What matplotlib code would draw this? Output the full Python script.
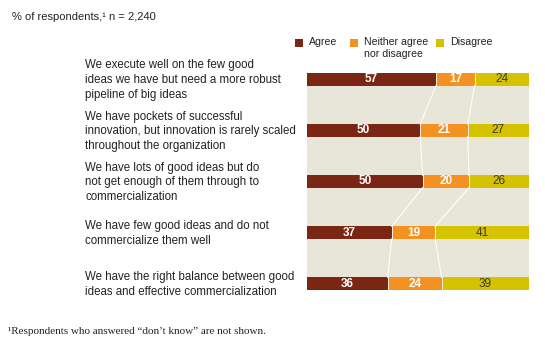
import matplotlib.pyplot as plt
import numpy as np

# data
statements = [
    "We execute well on the few good\nideas we have but need a more robust\npipeline of big ideas",
    "We have pockets of successful\ninnovation, but innovation is rarely scaled\nthroughout the organization",
    "We have lots of good ideas but do\nnot get enough of them through to\ncommercialization",
    "We have few good ideas and do not\ncommercialize them well",
    "We have the right balance between good\nideas and effective commercialization",
]
agree = [57, 50, 50, 37, 36]
neither = [17, 21, 20, 19, 24]
disagree = [24, 27, 26, 41, 39]
series_names = ["Agree", "Neither agree\nnor disagree", "Disagree"]

colors = ["#7a2614", "#f39121", "#d5c200"]
bg = "#e8e6d8"
W, H = 545, 351

fig = plt.figure(figsize=(W / 100, H / 100), dpi=100)
fig.patch.set_facecolor("white")
plt.rcParams['font.family'] = ['Liberation Sans', 'DejaVu Sans']

# axes placed in pixel coordinates
x0, x1, y0, y1 = 307, 529, 73, 290
ax = fig.add_axes([x0 / W, 1 - y1 / H, (x1 - x0) / W, (y1 - y0) / H])
ax.set_facecolor(bg)

n = len(statements)
h = 0.245
vals = np.array([agree, neither, disagree], dtype=float)
fracs = vals / vals.sum(axis=0)
ypos = np.arange(n)

left = np.zeros(n)
for k in range(3):
    ax.barh(ypos, fracs[k], left=left, height=h, color=colors[k], lw=0)
    for i in range(n):
        cx = left[i] + fracs[k][i] / 2
        if k < 2:
            ax.text(cx, ypos[i], str(int(vals[k][i])), ha="center", va="center",
                    color="white", fontsize=8.5, fontweight="bold")
        else:
            ax.text(cx, ypos[i], str(int(vals[k][i])), ha="center", va="center",
                    color="#3a3a2a", fontsize=8.5)
    left = left + fracs[k]

# thin white gaps between segments
for b in (fracs[0], fracs[0] + fracs[1]):
    for i in range(n):
        ax.plot([b[i], b[i]], [ypos[i] - h / 2, ypos[i] + h / 2],
                color="white", lw=0.6)

# connector lines between segment boundaries
b1 = fracs[0]
b2 = fracs[0] + fracs[1]
for i in range(n - 1):
    for b in (b1, b2):
        ax.plot([b[i], b[i + 1]], [ypos[i] + h / 2, ypos[i + 1] - h / 2],
                color="white", lw=0.8)

ax.set_xlim(0, 1)
ax.set_ylim(n - 1 + h / 2, -h / 2)
ax.set_xticks([])
ax.set_yticks([])
for sp in ax.spines.values():
    sp.set_visible(False)

# row labels
for i, s in enumerate(statements):
    yp = y0 + (y1 - y0) * (ypos[i] + h / 2) / (n - 1 + h)
    fig.text(85 / W, 1 - (yp + 1) / H, s, ha="left", va="center", fontsize=8.3,
             color="#222222", linespacing=1.32)

# title
fig.text(12 / W, 1 - 17 / H, "% of respondents,\u00b9 n = 2,240", ha="left",
         va="center", fontsize=8, color="#222222")

# legend
leg_x = [295, 350, 436]
for k in range(3):
    fig.patches.append(plt.Rectangle((leg_x[k] / W, 1 - 47 / H), 8 / W, 8 / H,
                                     transform=fig.transFigure,
                                     color=colors[k], lw=0))
    fig.text((leg_x[k] + 14) / W, 1 - 37 / H, series_names[k], ha="left",
             va="top", fontsize=7.6, color="#222222", linespacing=1.2)

# footnote
fig.text(8 / W, 1 - 332 / H,
         "\u00b9Respondents who answered \u201cdon\u2019t know\u201d are not shown.",
         ha="left", va="center", fontsize=8, color="#222222",
         family=["Liberation Serif", "DejaVu Serif"])

fig.savefig("out.png", dpi=100)
